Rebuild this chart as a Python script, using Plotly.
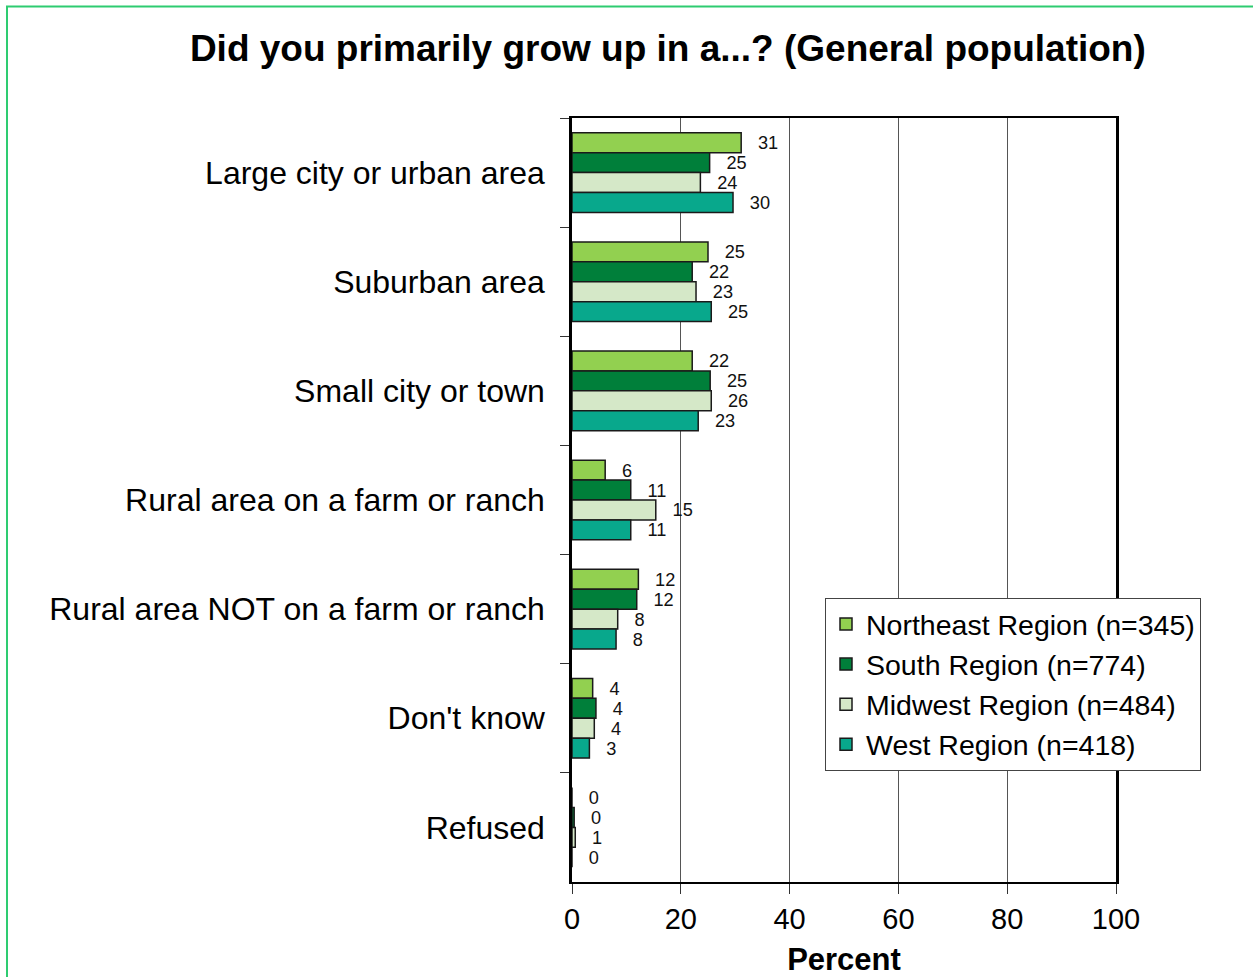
import plotly.graph_objects as go

categories = [
    "Large city or urban area",
    "Suburban area",
    "Small city or town",
    "Rural area on a farm or ranch",
    "Rural area NOT on a farm or ranch",
    "Don't know",
    "Refused",
]

series_names = [
    "Northeast Region (n=345)",
    "South Region (n=774)",
    "Midwest Region (n=484)",
    "West Region (n=418)",
]

northeast = [31.1, 25.0, 22.1, 6.1, 12.2, 3.8, 0.0]
south = [25.3, 22.1, 25.4, 10.8, 11.9, 4.4, 0.4]
midwest = [23.6, 22.8, 25.6, 15.4, 8.4, 4.1, 0.6]
west = [29.6, 25.6, 23.2, 10.8, 8.1, 3.2, 0.0]

northeast_labels = ["31", "25", "22", "6", "12", "4", "0"]
south_labels = ["25", "22", "25", "11", "12", "4", "0"]
midwest_labels = ["24", "23", "26", "15", "8", "4", "1"]
west_labels = ["30", "25", "23", "11", "8", "3", "0"]

colors = ["#92D050", "#007F3A", "#D5E8C8", "#08A88C"]

x_ticks = [0, 20, 40, 60, 80, 100]

FONT = "Arial, 'Liberation Sans', sans-serif"
PAD = "\u00a0\u00a0\u2009"

fig = go.Figure()
for name, vals, labs, col in zip(
    series_names,
    [northeast, south, midwest, west],
    [northeast_labels, south_labels, midwest_labels, west_labels],
    colors,
):
    fig.add_trace(
        go.Bar(
            name=name,
            y=categories,
            x=vals,
            orientation="h",
            marker=dict(color=col, line=dict(color="#1a1a1a", width=1.5)),
            text=[PAD + t for t in labs],
            textposition="outside",
            cliponaxis=False,
            textfont=dict(family=FONT, size=21, color="#111"),
        )
    )

fig.update_layout(
    width=1253,
    height=977,
    paper_bgcolor="white",
    plot_bgcolor="white",
    barmode="group",
    bargap=0.27,
    bargroupgap=0.0,
    margin=dict(l=572, r=137, t=118, b=95, autoexpand=False),
    font=dict(family=FONT, color="#000"),
    title=dict(
        text="<b>Did you primarily grow up in a...? (General population)</b>",
        x=0.533,
        xref="container",
        xanchor="center",
        y=1 - 48 / 977,
        yref="container",
        yanchor="middle",
        font=dict(family=FONT, size=37, color="#000"),
    ),
    xaxis=dict(
        range=[0, 100],
        tickvals=x_ticks,
        ticktext=[str(v) for v in x_ticks],
        showgrid=True,
        gridcolor="#555",
        gridwidth=1,
        showline=True,
        linecolor="#000",
        linewidth=2,
        mirror=True,
        ticks="outside",
        ticklen=10,
        tickcolor="#333",
        tickwidth=1,
        tickfont=dict(family=FONT, size=29, color="#000"),
        zeroline=False,
        title=dict(text="<b>Percent</b>", font=dict(family=FONT, size=31, color="#000"), standoff=15),
    ),
    yaxis=dict(
        autorange="reversed",
        showline=True,
        linecolor="#000",
        linewidth=2.5,
        mirror=True,
        ticks="outside",
        tickson="boundaries",
        ticklen=9,
        tickcolor="#333",
        tickwidth=1,
        ticklabelstandoff=18,
        tickfont=dict(family=FONT, size=32, color="#000"),
        showgrid=False,
    ),
    legend=dict(
        x=(825 - 572) / 544,
        y=(882 - 598) / 764,
        xanchor="left",
        yanchor="top",
        bgcolor="white",
        bordercolor="#444",
        borderwidth=1,
        font=dict(family=FONT, size=28.5, color="#000"),
        traceorder="normal",
        itemwidth=30,
    ),
    shapes=[
        dict(
            type="rect",
            xref="paper",
            yref="paper",
            x0=(7 - 572) / 544,
            x1=(1270 - 572) / 544,
            y0=(882 - 1000) / 764,
            y1=(882 - 6.5) / 764,
            line=dict(color="#2ECC71", width=2),
            fillcolor="rgba(0,0,0,0)",
            layer="below",
        )
    ],
)

fig.write_html(
    "out.html",
    config={"displayModeBar": False},
    post_script="document.body.style.margin='0';document.body.style.overflow='hidden';",
)
